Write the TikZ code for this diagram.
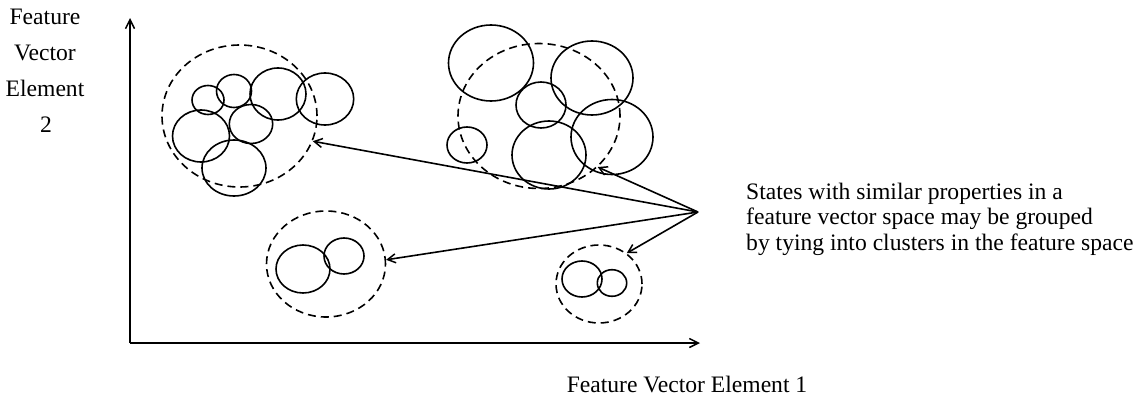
\documentclass[tikz,border=0pt]{standalone}
\usepackage{fontspec}
\setmainfont{Liberation Serif}
\usetikzlibrary{shapes.geometric,arrows.meta}
\tikzset{
  ln/.style={line width=1.6pt},
  blob/.style={ln, draw, ellipse, inner sep=0pt},
  cluster/.style={ln, draw, ellipse, inner sep=0pt, dash pattern=on 8pt off 5pt},
  ptr/.style={ln, -{Straight Barb[length=8pt,width=9pt,line width=1.5pt]}},
  axis/.style={ln, -{Straight Barb[length=9pt,width=9pt,line width=1.5pt]}},
  lbl/.style={font=\fontsize{23.6}{26}\selectfont, inner sep=0pt, anchor=base},
}
\newcommand{\el}[5]{\node[blob, minimum width=#3pt*2, minimum height=#4pt*2] (#5) at (#1,#2) {};}
\newcommand{\cl}[5]{\node[cluster, minimum width=#3pt*2, minimum height=#4pt*2] (#5) at (#1,#2) {};}
\begin{document}
\begin{tikzpicture}[x=1pt,y=-1pt]
\useasboundingbox (0,0) rectangle (1143,399);
% axes
\coordinate (o) at (130,343);
\coordinate (ytip) at (130,18);
\coordinate (xtip) at (700,343);
\draw[axis] (o) -- (ytip);
\draw[axis] (o) -- (xtip);
% axis labels
\node[lbl] (yl1) at (45,24) {Feature};
\node[lbl] (yl2) at (45,60) {Vector};
\node[lbl] (yl3) at (45,96) {Element};
\node[lbl] (yl4) at (46,132) {2};
\node[lbl] (xl) at (687,392) {Feature Vector Element 1};
% cluster 1 (top left)
\cl{239.5}{116}{77.5}{71}{c1}
\el{208}{100}{16}{14.5}{a1}
\el{234}{91}{17.5}{16.5}{a2}
\el{278}{94}{28}{26}{a3}
\el{325}{99}{28.7}{26}{a4}
\el{201}{136}{28.5}{26}{a5}
\el{251}{124}{21.7}{19.5}{a6}
\el{234}{168}{32}{28}{a7}
% cluster 2 (top right)
\cl{539}{116}{81}{72.5}{c2}
\el{491}{63}{42.5}{38}{b1}
\el{592}{78}{41}{37}{b2}
\el{541}{105}{25}{23}{b3}
\el{467}{145}{20}{18}{b4}
\el{549}{155}{37}{34}{b5}
\el{612}{137}{41}{37.5}{b6}
% cluster 3 (bottom left)
\cl{326}{264}{59.5}{53}{c3}
\el{303}{269}{27}{24}{d1}
\el{344}{256}{20}{18}{d2}
% cluster 4 (bottom right)
\cl{599}{284}{43}{39}{c4}
\el{582}{279}{20}{18}{e1}
\el{612}{283}{14.7}{13.3}{e2}
% description
\node[lbl, anchor=base west] (t1) at (746,199) {States with similar properties in a};
\node[lbl, anchor=base west] (t2) at (746,224.5) {feature vector space may be grouped};
\node[lbl, anchor=base west] (t3) at (746,250) {by tying into clusters in the feature space};
\coordinate (src) at (698,212);
\draw[ptr] (src) -- (c1.-19);
\draw[ptr] (src) -- (c2.-41);
\draw[ptr] (src) -- (c3.4);
\draw[ptr] (src) -- (c4.48);
\end{tikzpicture}
\end{document}
